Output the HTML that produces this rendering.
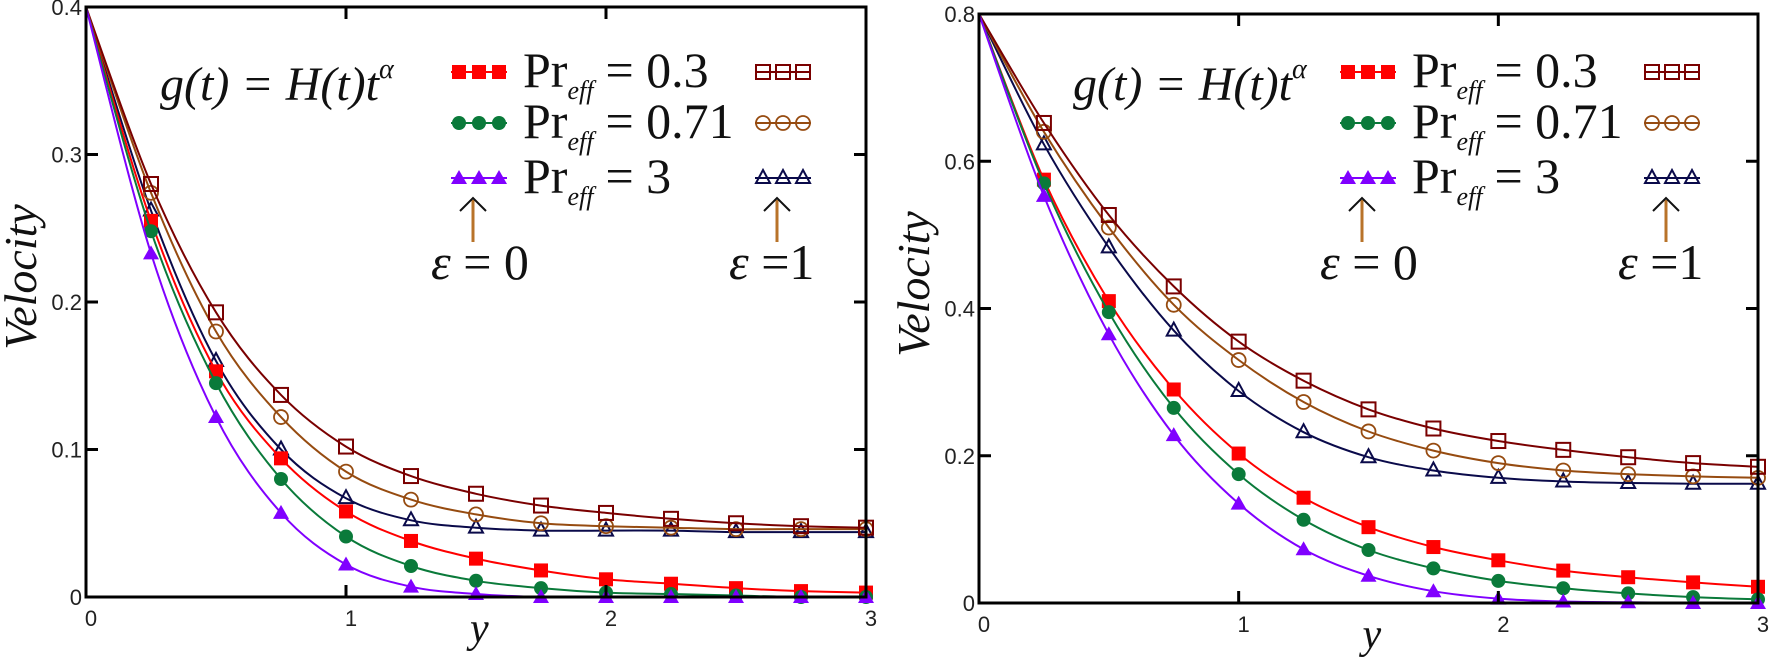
<!DOCTYPE html>
<html><head><meta charset="utf-8"><style>
html,body{margin:0;padding:0;background:#fff;}
svg{display:block;}
</style></head><body>
<svg id="s" width="1770" height="661" viewBox="0 0 1770 661" xmlns="http://www.w3.org/2000/svg"></svg>
<script>
const S=document.getElementById('s');let h='';
const SF='font-family="Liberation Serif, serif"';
const TF='font-family="Liberation Sans, sans-serif"';
function cr(pts){let d='M'+pts[0][0].toFixed(1)+','+pts[0][1].toFixed(1);
for(let i=0;i<pts.length-1;i++){const p0=pts[Math.max(0,i-1)],p1=pts[i],p2=pts[i+1],p3=pts[Math.min(pts.length-1,i+2)];
const c1=[p1[0]+(p2[0]-p0[0])/6,p1[1]+(p2[1]-p0[1])/6],c2=[p2[0]-(p3[0]-p1[0])/6,p2[1]-(p3[1]-p1[1])/6];
d+='C'+c1[0].toFixed(1)+','+c1[1].toFixed(1)+' '+c2[0].toFixed(1)+','+c2[1].toFixed(1)+' '+p2[0].toFixed(1)+','+p2[1].toFixed(1);}return d;}
function mk(t,x,y,c){
 if(t=='fs')return `<rect x="${x-7}" y="${y-7}" width="14" height="14" fill="${c}"/>`;
 if(t=='fc')return `<circle cx="${x}" cy="${y}" r="7" fill="${c}"/>`;
 if(t=='ft')return `<polygon points="${x},${y-8} ${x+8},${y+6} ${x-8},${y+6}" fill="${c}"/>`;
 if(t=='os')return `<rect x="${x-7}" y="${y-7}" width="14" height="14" fill="none" stroke="${c}" stroke-width="2"/>`;
 if(t=='oc')return `<circle cx="${x}" cy="${y}" r="7" fill="none" stroke="${c}" stroke-width="1.8"/>`;
 if(t=='ot')return `<polygon points="${x},${y-8} ${x+7},${y+5} ${x-7},${y+5}" fill="none" stroke="${c}" stroke-width="2"/>`;}
const ser=[['fs','#ff0000'],['fc','#0a7a3a'],['ft','#8000ff'],['os','#7a0000'],['oc','#964b10'],['ot','#0a0a4a']];
function plot(P){
 const {x0,x1,y0,y1,ym,data,yt,gx,lx}=P;
 const X=v=>x0+(x1-x0)*v/3,Y=v=>y1-(y1-y0)*v/ym;
 [5,4,3,0,1,2].forEach(k=>{const pts=data[k].map((v,i)=>[X(i*0.25),Y(v)]);
  h+=`<path d="${cr(pts)}" fill="none" stroke="${ser[k][1]}" stroke-width="2"/>`;
  pts.forEach((p,i)=>{if(i>0)h+=mk(ser[k][0],p[0],p[1],ser[k][1]);});});
 h+=`<rect x="${x0}" y="${y0}" width="${x1-x0}" height="${y1-y0}" fill="none" stroke="#000" stroke-width="3"/>`;
 yt.forEach((v,i)=>{const y=Y(v);if(i>0&&i<yt.length-1){h+=`<line x1="${x0}" y1="${y}" x2="${x0+12}" y2="${y}" stroke="#000" stroke-width="3"/><line x1="${x1}" y1="${y}" x2="${x1-12}" y2="${y}" stroke="#000" stroke-width="3"/>`;}
  h+=`<text ${TF} font-size="22" fill="#222" x="${x0-4}" y="${y+8}" text-anchor="end">${v==0?'0':v.toFixed(1)}</text>`;});
 [0,1,2,3].forEach(v=>{const x=X(v);if(v>0&&v<3)h+=`<line x1="${x}" y1="${y1}" x2="${x}" y2="${y1-12}" stroke="#000" stroke-width="3"/><line x1="${x}" y1="${y0}" x2="${x}" y2="${y0+12}" stroke="#000" stroke-width="3"/>`;
  h+=`<text ${TF} font-size="22" fill="#222" x="${x+5}" y="${y1+29}" text-anchor="middle">${v}</text>`;});
 h+=`<text ${SF} x="${X(1.5)-6}" y="${y1+45}" font-size="42" font-style="italic" fill="#111">y</text>`;
 h+=`<text ${SF} transform="translate(${x0-50},${y0+270}) rotate(-90)" font-size="46" font-style="italic" text-anchor="middle" fill="#111">Velocity</text>`;
 h+=`<text ${SF} x="${gx}" y="100" font-size="48" font-style="italic" fill="#111">g(t) = H(t)t<tspan font-size="28" dy="-22">α</tspan></text>`;
 const rows=[72,123,178],vals=['0.3','0.71','3'];
 rows.forEach((y,i)=>{
  const k=i;h+=`<line x1="${lx}" y1="${y}" x2="${lx+56}" y2="${y}" stroke="${ser[k][1]}" stroke-width="2"/>`;
  [lx+8,lx+28,lx+48].forEach(x=>h+=mk(ser[k][0],x,y,ser[k][1]));
  const ox=lx+304;h+=`<line x1="${ox}" y1="${y}" x2="${ox+56}" y2="${y}" stroke="${ser[k+3][1]}" stroke-width="2"/>`;
  [ox+8,ox+28,ox+48].forEach(x=>h+=mk(ser[k+3][0],x,y,ser[k+3][1]));
  h+=`<text ${SF} x="${lx+72}" y="${y+15}" font-size="50" fill="#111">Pr<tspan font-size="26" font-style="italic" dy="12">eff</tspan><tspan dy="-12" dx="12">= ${vals[i]}</tspan></text>`;});
 [[lx+22,'ε = 0',lx-20],[lx+326,'ε =1',lx+278]].forEach(a=>{
  h+=`<line x1="${a[0]}" y1="200" x2="${a[0]}" y2="242" stroke="#b8732a" stroke-width="3"/><path d="M${a[0]-13},${211} L${a[0]},${198} L${a[0]+13},${211}" fill="none" stroke="#111" stroke-width="2"/>`;
  h+=`<text ${SF} x="${a[2]}" y="279" font-size="50" fill="#111"><tspan font-style="italic">ε</tspan>${a[1].slice(1)}</text>`;});
}
plot({x0:86,x1:866,y0:7,y1:597,ym:0.4,yt:[0,0.1,0.2,0.3,0.4],gx:160,lx:451,data:[
[0.4,0.255,0.153,0.094,0.058,0.038,0.026,0.018,0.012,0.009,0.006,0.004,0.003],
[0.4,0.248,0.145,0.08,0.041,0.021,0.011,0.006,0.003,0.002,0.001,0,0],
[0.4,0.233,0.122,0.057,0.022,0.007,0.002,0,0,0,0,0,0],
[0.4,0.28,0.193,0.137,0.102,0.082,0.07,0.062,0.057,0.053,0.05,0.048,0.047],
[0.4,0.274,0.18,0.122,0.085,0.066,0.056,0.05,0.048,0.047,0.046,0.046,0.046],
[0.4,0.262,0.16,0.1,0.067,0.052,0.047,0.045,0.045,0.045,0.044,0.044,0.044]]});
plot({x0:979,x1:1758,y0:14,y1:603,ym:0.8,yt:[0,0.2,0.4,0.6,0.8],gx:1073,lx:1340,data:[
[0.8,0.575,0.41,0.29,0.203,0.143,0.103,0.076,0.058,0.044,0.035,0.028,0.022],
[0.8,0.57,0.395,0.265,0.175,0.113,0.072,0.047,0.03,0.02,0.013,0.008,0.005],
[0.8,0.553,0.365,0.228,0.135,0.073,0.037,0.016,0.006,0.002,0.001,0,0],
[0.8,0.652,0.527,0.43,0.355,0.302,0.263,0.237,0.22,0.208,0.198,0.19,0.185],
[0.8,0.64,0.51,0.405,0.33,0.273,0.233,0.207,0.19,0.18,0.175,0.172,0.17],
[0.8,0.623,0.483,0.37,0.288,0.232,0.198,0.18,0.17,0.165,0.163,0.162,0.162]]});
S.innerHTML=h;
</script>
</body></html>
